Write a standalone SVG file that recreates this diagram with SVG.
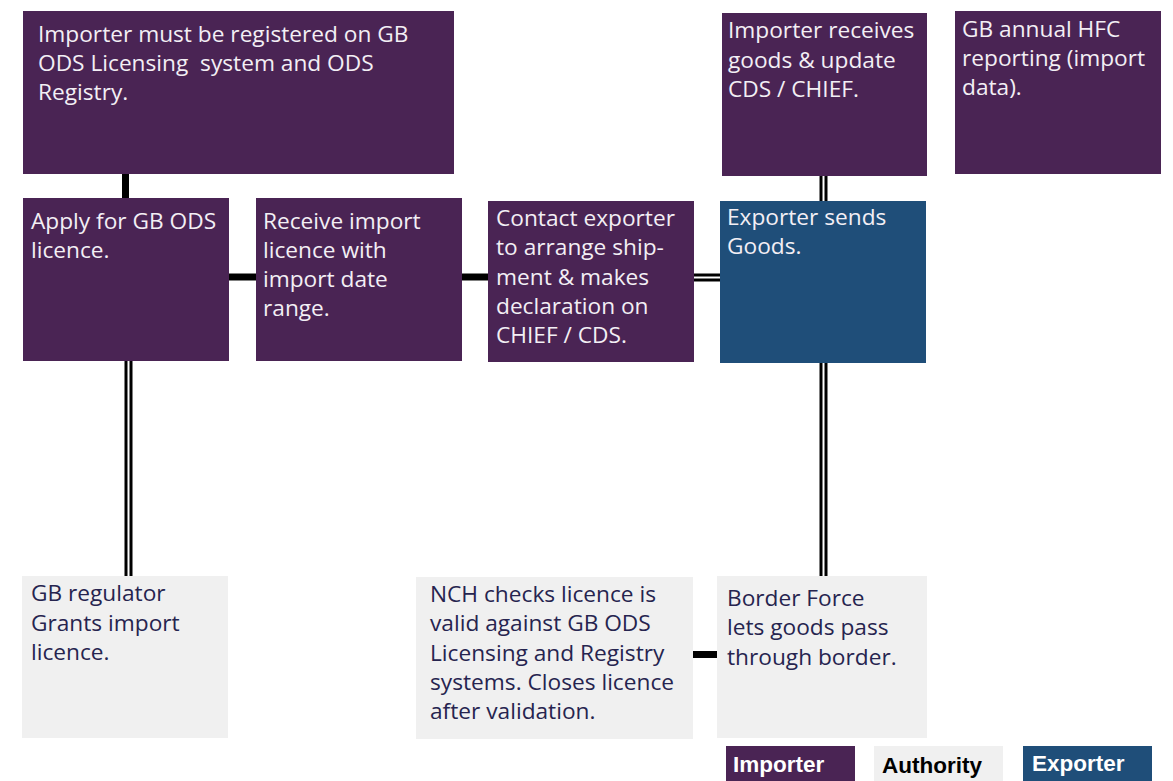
<svg xmlns="http://www.w3.org/2000/svg" width="1173" height="781" viewBox="0 0 1173 781">
  <style>
    .imp { fill: #4a2454; }
    .exp { fill: #1f4e79; }
    .auth { fill: #f0f0f0; }
    .t { font-family: "Open Sans", "Liberation Sans", sans-serif; font-size: 22.7px; white-space: pre; }
    .tl { fill: #f3eff5; }
    .td { fill: #26244f; }
    .lg { font-family: "Liberation Sans", Arial, sans-serif; font-size: 22.5px; font-weight: bold; }
    .thick { stroke: #000; stroke-width: 7; fill: none; }
    .dbl-o { stroke: #000; stroke-width: 8; fill: none; }
    .dbl-i { stroke: #fff; stroke-width: 2; fill: none; }
  </style>

  <rect width="1173" height="781" fill="#fff"/>

  <!-- connectors -->
  <g id="connectors">
    <line class="thick" x1="125.5" y1="174" x2="125.5" y2="198"/>
    <line class="thick" x1="229" y1="277" x2="256" y2="277"/>
    <line class="thick" x1="462" y1="277" x2="488" y2="277"/>
    <line class="thick" x1="693" y1="654.5" x2="717" y2="654.5"/>

    <line class="dbl-o" x1="694" y1="277.5" x2="720" y2="277.5"/>
    <line class="dbl-i" x1="694" y1="277.5" x2="720" y2="277.5"/>

    <line class="dbl-o" x1="823.5" y1="176" x2="823.5" y2="201"/>
    <line class="dbl-i" x1="823.5" y1="176" x2="823.5" y2="201"/>

    <line class="dbl-o" x1="823.5" y1="363" x2="823.5" y2="576"/>
    <line class="dbl-i" x1="823.5" y1="363" x2="823.5" y2="576"/>

    <line class="dbl-o" x1="128.5" y1="361" x2="128.5" y2="576"/>
    <line class="dbl-i" x1="128.5" y1="361" x2="128.5" y2="576"/>
  </g>

  <!-- importer steps -->
  <g id="importer-register">
    <rect class="imp" x="23" y="11" width="431" height="163"/>
    <text class="t tl" x="38" y="42">Importer must be registered on GB</text>
    <text class="t tl" x="38" y="71">ODS Licensing  system and ODS</text>
    <text class="t tl" x="38" y="100">Registry.</text>
  </g>

  <g id="apply-licence">
    <rect class="imp" x="23" y="198" width="206" height="163"/>
    <text class="t tl" x="31" y="229">Apply for GB ODS</text>
    <text class="t tl" x="31" y="258">licence.</text>
  </g>

  <g id="receive-licence">
    <rect class="imp" x="256" y="198" width="206" height="163"/>
    <text class="t tl" x="263" y="229">Receive import</text>
    <text class="t tl" x="263" y="258">licence with</text>
    <text class="t tl" x="263" y="287">import date</text>
    <text class="t tl" x="263" y="316">range.</text>
  </g>

  <g id="contact-exporter">
    <rect class="imp" x="488" y="201" width="206" height="161"/>
    <text class="t tl" x="496" y="226">Contact exporter</text>
    <text class="t tl" x="496" y="255">to arrange ship-</text>
    <text class="t tl" x="496" y="285">ment &amp; makes</text>
    <text class="t tl" x="496" y="314">declaration on</text>
    <text class="t tl" x="496" y="343">CHIEF / CDS.</text>
  </g>

  <g id="importer-receives">
    <rect class="imp" x="722" y="13" width="205" height="163"/>
    <text class="t tl" x="728" y="38">Importer receives</text>
    <text class="t tl" x="728" y="68">goods &amp; update</text>
    <text class="t tl" x="728" y="97">CDS / CHIEF.</text>
  </g>

  <g id="hfc-reporting">
    <rect class="imp" x="955" y="11" width="206" height="163"/>
    <text class="t tl" x="962" y="37">GB annual HFC</text>
    <text class="t tl" x="962" y="66">reporting (import</text>
    <text class="t tl" x="962" y="95">data).</text>
  </g>

  <!-- exporter step -->
  <g id="exporter-sends">
    <rect class="exp" x="720" y="201" width="206" height="162"/>
    <text class="t tl" x="727" y="225">Exporter sends</text>
    <text class="t tl" x="727" y="254">Goods.</text>
  </g>

  <!-- authority steps -->
  <g id="regulator-grants">
    <rect class="auth" x="22" y="576" width="206" height="162"/>
    <text class="t td" x="31" y="601">GB regulator</text>
    <text class="t td" x="31" y="631">Grants import</text>
    <text class="t td" x="31" y="660">licence.</text>
  </g>

  <g id="nch-checks">
    <rect class="auth" x="416" y="577" width="277" height="162"/>
    <text class="t td" x="430" y="602">NCH checks licence is</text>
    <text class="t td" x="430" y="631">valid against GB ODS</text>
    <text class="t td" x="430" y="661">Licensing and Registry</text>
    <text class="t td" x="430" y="690">systems. Closes licence</text>
    <text class="t td" x="430" y="719">after validation.</text>
  </g>

  <g id="border-force">
    <rect class="auth" x="717" y="576" width="210" height="162"/>
    <text class="t td" x="727" y="606">Border Force</text>
    <text class="t td" x="727" y="635">lets goods pass</text>
    <text class="t td" x="727" y="665">through border.</text>
  </g>

  <!-- key -->
  <g id="legend">
    <rect class="imp" x="726" y="746" width="129" height="35"/>
    <text class="lg" x="733" y="772" fill="#ffffff">Importer</text>
    <rect class="auth" x="874" y="746" width="129" height="35"/>
    <text class="lg" x="882" y="773" fill="#000000">Authority</text>
    <rect class="exp" x="1023" y="746" width="129" height="35"/>
    <text class="lg" x="1032" y="771" fill="#ffffff">Exporter</text>
  </g>
</svg>
